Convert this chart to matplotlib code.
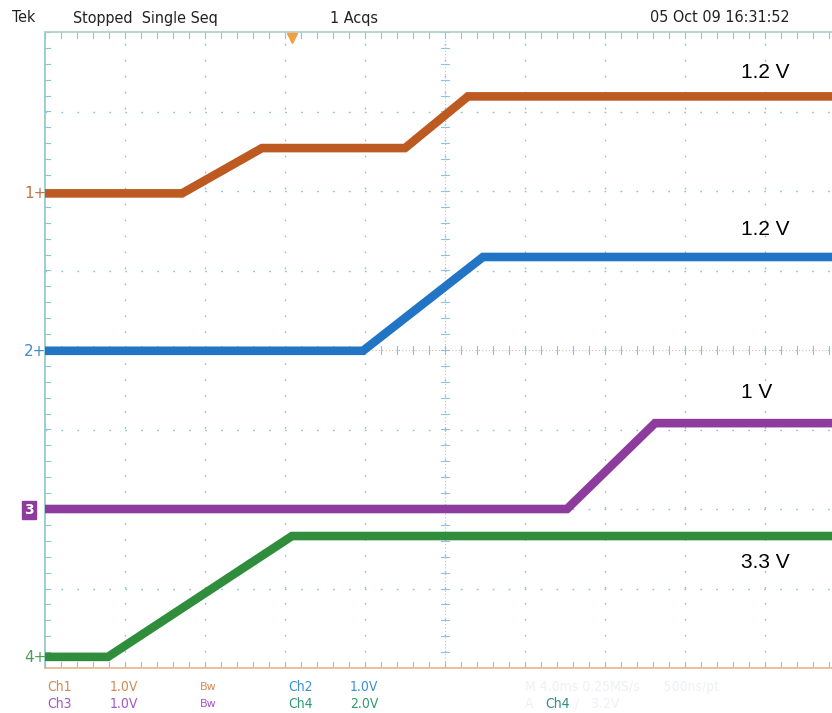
import numpy as np
import matplotlib
matplotlib.use("Agg")
import matplotlib.pyplot as plt

# time in ms from left edge of screen (4 ms/div), level in volts
ch1_t = [0, 6.85, 10.85, 18.0, 21.15, 40]
ch1_v = [0, 0, 0.57, 0.57, 1.22, 1.22]
ch2_t = [0, 15.9, 21.9, 40]
ch2_v = [0, 0, 1.18, 1.18]
ch3_t = [0, 26.1, 30.5, 40]
ch3_v = [0, 0, 1.08, 1.08]
ch4_t = [0, 3.15, 12.35, 40]
ch4_v = [0, 0, 3.04, 3.04]

# vertical offset (div) and scale (V/div) per channel
offsets = [1.97, -0.01, -2.0, -3.86]
scales = [1.0, 1.0, 1.0, 2.0]
colors = ["#bd5a22", "#2274c4", "#8e3b9e", "#2f8d3c"]
labels = ["1.2 V", "1.2 V", "1 V", "3.3 V"]
label_y = [72, 230, 392, 562]

W, H = 832, 713
fig = plt.figure(figsize=(W / 100, H / 100), dpi=100)
fig.patch.set_facecolor("white")
ax = fig.add_axes([45 / W, (H - 668) / H, 800 / W, 636 / H])
ax.set_xlim(0, 40)
ax.set_ylim(-4, 4)
ax.set_xticks([])
ax.set_yticks([])
for s in ax.spines.values():
    s.set_color("#8cc7c8")
    s.set_linewidth(1.2)
ax.spines["bottom"].set_color("#e6b48a")
ax.spines["top"].set_color("#a8d0cc")

grid_c = "#86bfe0"
for gx in range(4, 40, 4):
    ax.axvline(gx, color=grid_c, lw=1.0, ls=(0, (1.2, 10.3)), zorder=1)
for gy in range(-3, 4):
    ax.axhline(gy, color=grid_c, lw=1.0, ls=(0, (1.2, 10.3)), zorder=1)

# center cross and border tick marks every 1/5 div
ax.axvline(20, color="#9fcbe0", lw=0.8, ls=(0, (1, 2)), zorder=1)
ax.axhline(0, color="#e8b89a", lw=0.8, ls=(0, (1, 2)), zorder=1)
for xt in np.arange(0, 40.01, 0.8):
    ax.plot([xt, xt], [-0.05, 0.05], color="#8cc4dc", lw=0.8, zorder=1)
    ax.plot([xt, xt], [-4, -3.93], color="#8cc4dc", lw=0.8, zorder=1)
    ax.plot([xt, xt], [4, 3.93], color="#8cc4dc", lw=0.8, zorder=1)
for yt in np.arange(-4, 4.01, 0.2):
    ax.plot([19.8, 20.2], [yt, yt], color="#8cc4dc", lw=0.8, zorder=1)
    ax.plot([0, 0.25], [yt, yt], color="#8cc4dc", lw=0.8, zorder=1)

series = [(ch1_t, ch1_v), (ch2_t, ch2_v), (ch3_t, ch3_v), (ch4_t, ch4_v)]
for (t, v), off, sc, c in zip(series, offsets, scales, colors):
    y = off + np.array(v) / sc
    ax.plot(t, y, color=c, lw=6.2, solid_joinstyle="miter",
            solid_capstyle="butt", zorder=3)

# trigger position marker
ax.plot([ch4_t[2]], [3.93], marker="v", color="#f0a040", ms=7, zorder=4,
        clip_on=False)

def ftext(x, y, s, **kw):
    fig.text(x / W, 1 - y / H, s, va="center", **kw)

hdr = dict(fontsize=11.5, color="#222222", family="DejaVu Sans",
           fontstretch="condensed")
ftext(12, 18, "Tek", **hdr)
ftext(73, 18, "Stopped  Single Seq", **hdr)
ftext(330, 18, "1 Acqs", **hdr)
ftext(650, 18, "05 Oct 09 16:31:52", **hdr)

for lab, ly in zip(labels, label_y):
    ftext(741, ly, lab, fontsize=15, color="black", family="Liberation Sans")

# channel ground markers on left
mk_y = [193, 352, 510, 657]
for i, (c, my) in enumerate(zip(colors, mk_y)):
    if i == 2:
        ftext(24, my, "3", fontsize=10, color="white", fontweight="bold",
              bbox=dict(boxstyle="square,pad=0.15", fc=c, ec=c))
    else:
        ftext(24, my, str(i + 1) + "+", fontsize=11, color=c, alpha=0.85)

ft = dict(fontsize=10, family="DejaVu Sans", fontstretch="condensed")
c1, c2, c3, c4 = "#d08a55", "#3d8fd4", "#a455c4", "#2f9a70"
ftext(47, 687, "Ch1", color=c1, **ft)
ftext(110, 687, "1.0V", color=c1, **ft)
ftext(200, 687, "Bw", color=c1, fontsize=8)
ftext(288, 687, "Ch2", color=c2, **ft)
ftext(350, 687, "1.0V", color=c2, **ft)
ftext(47, 704, "Ch3", color=c3, **ft)
ftext(110, 704, "1.0V", color=c3, **ft)
ftext(200, 704, "Bw", color=c3, fontsize=8)
ftext(288, 704, "Ch4", color=c4, **ft)
ftext(350, 704, "2.0V", color=c4, **ft)
ftext(525, 687, "M 4.0ms 0.25MS/s      500ns/pt", color="#eef0f6", **ft)
ftext(525, 704, "A", color="#eef0f6", **ft)
ftext(545, 704, "Ch4", color="#2a8f86", **ft)
ftext(575, 704, "\u2215   3.2V", color="#eef0f6", **ft)

fig.savefig("out.png", dpi=100, facecolor="white")
